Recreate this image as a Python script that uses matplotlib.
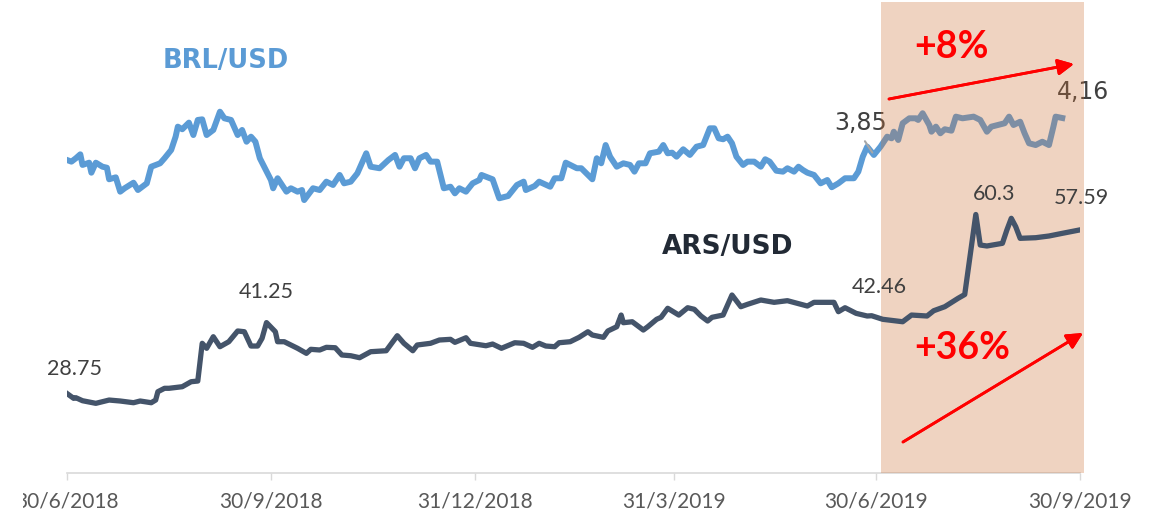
import matplotlib
matplotlib.use('Agg')
import matplotlib.pyplot as plt
import matplotlib.dates as mdates
import pandas as pd
from matplotlib.transforms import Bbox, TransformedBbox

# ARS/USD (eje izquierdo)
ars_fechas = ['2018-06-30', '2018-07-03', '2018-07-04', '2018-07-07', '2018-07-13', '2018-07-19',
              '2018-07-24', '2018-07-30', '2018-08-02', '2018-08-07', '2018-08-09', '2018-08-10',
              '2018-08-13', '2018-08-15', '2018-08-21', '2018-08-25', '2018-08-28', '2018-08-30',
              '2018-09-01', '2018-09-04', '2018-09-07', '2018-09-11', '2018-09-15', '2018-09-18',
              '2018-09-21', '2018-09-24', '2018-09-26', '2018-09-28', '2018-10-02', '2018-10-03',
              '2018-10-06', '2018-10-12', '2018-10-16', '2018-10-18', '2018-10-22', '2018-10-25',
              '2018-10-29', '2018-11-01', '2018-11-05', '2018-11-09', '2018-11-14', '2018-11-21',
              '2018-11-26', '2018-11-29', '2018-12-03', '2018-12-05', '2018-12-11', '2018-12-15',
              '2018-12-20', '2018-12-22', '2018-12-27', '2018-12-29', '2019-01-05', '2019-01-08',
              '2019-01-12', '2019-01-18', '2019-01-22', '2019-01-26', '2019-01-29', '2019-02-01',
              '2019-02-05', '2019-02-07', '2019-02-12', '2019-02-16', '2019-02-20', '2019-02-22',
              '2019-02-27', '2019-03-01', '2019-03-05', '2019-03-07', '2019-03-08', '2019-03-12',
              '2019-03-14', '2019-03-17', '2019-03-19', '2019-03-23', '2019-03-25', '2019-03-28',
              '2019-04-02', '2019-04-06', '2019-04-09', '2019-04-12', '2019-04-15', '2019-04-17',
              '2019-04-22', '2019-04-26', '2019-04-30', '2019-05-03', '2019-05-09', '2019-05-15',
              '2019-05-21', '2019-05-30', '2019-06-02', '2019-06-11', '2019-06-13', '2019-06-16',
              '2019-06-21', '2019-06-26', '2019-06-28', '2019-07-03', '2019-07-12', '2019-07-16',
              '2019-07-23', '2019-07-26', '2019-07-31', '2019-08-06', '2019-08-09', '2019-08-14',
              '2019-08-16', '2019-08-19', '2019-08-26', '2019-08-28', '2019-08-30', '2019-09-01',
              '2019-09-03', '2019-09-10', '2019-09-16', '2019-09-22', '2019-09-30']
ars_valores = [28.75, 27.90, 28.01, 27.48, 27.02, 27.60,
               27.43, 27.13, 27.43, 27.13, 27.60, 29.07,
               29.67, 29.67, 29.95, 30.83, 30.95, 37.60,
               36.72, 38.76, 37.00, 37.88, 39.77, 39.64,
               37.12, 37.12, 38.48, 41.25, 39.64, 37.88,
               37.88, 36.72, 35.83, 36.54, 36.42, 36.89,
               36.82, 35.54, 35.41, 35.06, 36.12, 36.29,
               38.94, 37.60, 36.29, 37.30, 37.60, 38.18,
               38.30, 37.77, 38.58, 37.60, 37.17, 37.47,
               36.72, 37.70, 37.60, 36.89, 37.60, 37.12,
               37.00, 37.70, 37.88, 38.65, 39.64, 39.06,
               38.65, 39.77, 40.52, 42.58, 41.23, 41.40,
               40.82, 39.94, 40.52, 41.83, 42.18, 43.77,
               42.58, 43.87, 43.59, 42.41, 41.53, 42.18,
               42.58, 46.11, 44.05, 44.47, 45.23, 44.82,
               45.11, 44.17, 44.82, 44.82, 43.17, 43.87,
               42.88, 42.41, 42.46, 41.83, 41.40, 42.58,
               42.41, 43.34, 44.05, 45.53, 46.20, 60.30,
               54.92, 54.75, 55.22, 57.56, 59.63, 58.15,
               56.10, 56.21, 56.51, 56.98, 57.59]

# BRL/USD (eje derecho)
brl_fechas = ['2018-06-30', '2018-07-02', '2018-07-04', '2018-07-06', '2018-07-07', '2018-07-10',
              '2018-07-11', '2018-07-13', '2018-07-16', '2018-07-18', '2018-07-19', '2018-07-22',
              '2018-07-24', '2018-07-26', '2018-07-30', '2018-08-01', '2018-08-05', '2018-08-07',
              '2018-08-11', '2018-08-13', '2018-08-16', '2018-08-18', '2018-08-19', '2018-08-21',
              '2018-08-24', '2018-08-26', '2018-08-28', '2018-08-30', '2018-09-01', '2018-09-04',
              '2018-09-07', '2018-09-09', '2018-09-12', '2018-09-15', '2018-09-17', '2018-09-19',
              '2018-09-21', '2018-09-23', '2018-09-25', '2018-09-30', '2018-10-01', '2018-10-03',
              '2018-10-07', '2018-10-09', '2018-10-12', '2018-10-14', '2018-10-15', '2018-10-19',
              '2018-10-22', '2018-10-25', '2018-10-28', '2018-10-31', '2018-11-02', '2018-11-05',
              '2018-11-08', '2018-11-12', '2018-11-14', '2018-11-18', '2018-11-22', '2018-11-25',
              '2018-11-27', '2018-11-29', '2018-12-02', '2018-12-04', '2018-12-06', '2018-12-09',
              '2018-12-11', '2018-12-14', '2018-12-17', '2018-12-20', '2018-12-22', '2018-12-24',
              '2018-12-27', '2018-12-30', '2019-01-02', '2019-01-03', '2019-01-08', '2019-01-11',
              '2019-01-15', '2019-01-19', '2019-01-22', '2019-01-23', '2019-01-27', '2019-01-29',
              '2019-02-03', '2019-02-05', '2019-02-08', '2019-02-10', '2019-02-15', '2019-02-17',
              '2019-02-22', '2019-02-24', '2019-02-26', '2019-02-28', '2019-03-02', '2019-03-05',
              '2019-03-08', '2019-03-11', '2019-03-13', '2019-03-15', '2019-03-18', '2019-03-20',
              '2019-03-24', '2019-03-26', '2019-03-28', '2019-03-30', '2019-04-01', '2019-04-04',
              '2019-04-07', '2019-04-10', '2019-04-13', '2019-04-16', '2019-04-18', '2019-04-20',
              '2019-04-22', '2019-04-24', '2019-04-26', '2019-04-28', '2019-05-01', '2019-05-03',
              '2019-05-06', '2019-05-09', '2019-05-11', '2019-05-13', '2019-05-16', '2019-05-19',
              '2019-05-21', '2019-05-24', '2019-05-26', '2019-05-28', '2019-05-30', '2019-06-02',
              '2019-06-05', '2019-06-08', '2019-06-10', '2019-06-13', '2019-06-16', '2019-06-20',
              '2019-06-22', '2019-06-24', '2019-06-26', '2019-06-29', '2019-07-02', '2019-07-05',
              '2019-07-07', '2019-07-08', '2019-07-10', '2019-07-12', '2019-07-15', '2019-07-18',
              '2019-07-19', '2019-07-21', '2019-07-24', '2019-07-25', '2019-07-27', '2019-07-29',
              '2019-07-31', '2019-08-03', '2019-08-05', '2019-08-08', '2019-08-13', '2019-08-16',
              '2019-08-19', '2019-08-21', '2019-08-27', '2019-08-29', '2019-08-31', '2019-09-03',
              '2019-09-05', '2019-09-07', '2019-09-10', '2019-09-13', '2019-09-16', '2019-09-18',
              '2019-09-19', '2019-09-22']
brl_valores = [3.753, 3.737, 3.770, 3.808, 3.705, 3.727,
               3.630, 3.727, 3.688, 3.678, 3.566, 3.585,
               3.446, 3.479, 3.533, 3.462, 3.527, 3.688,
               3.721, 3.770, 3.850, 3.979, 4.076, 4.051,
               4.115, 3.995, 4.141, 4.147, 3.995, 4.044,
               4.221, 4.157, 4.141, 3.995, 4.044, 3.930,
               3.979, 3.930, 3.770, 3.559, 3.479, 3.576,
               3.446, 3.479, 3.446, 3.462, 3.365, 3.479,
               3.462, 3.543, 3.511, 3.608, 3.527, 3.543,
               3.624, 3.818, 3.688, 3.673, 3.753, 3.802,
               3.688, 3.770, 3.770, 3.673, 3.770, 3.802,
               3.737, 3.737, 3.479, 3.494, 3.430, 3.479,
               3.446, 3.527, 3.559, 3.608, 3.566, 3.382,
               3.404, 3.511, 3.543, 3.462, 3.501, 3.543,
               3.494, 3.576, 3.576, 3.727, 3.673, 3.673,
               3.566, 3.770, 3.721, 3.898, 3.785, 3.688,
               3.721, 3.705, 3.640, 3.721, 3.721, 3.818,
               3.834, 3.898, 3.818, 3.824, 3.785, 3.857,
               3.802, 3.882, 3.898, 4.060, 4.060, 3.963,
               3.954, 3.979, 3.915, 3.785, 3.705, 3.737,
               3.737, 3.688, 3.760, 3.737, 3.649, 3.640,
               3.673, 3.640, 3.688, 3.656, 3.630, 3.608,
               3.527, 3.559, 3.489, 3.527, 3.576, 3.576,
               3.640, 3.785, 3.882, 3.802, 3.882, 3.979,
               3.963, 4.027, 3.947, 4.109, 4.157, 4.157,
               4.141, 4.206, 4.092, 4.027, 4.076, 4.012,
               4.051, 4.037, 4.173, 4.157, 4.173, 4.141,
               4.027, 4.076, 4.109, 4.173, 4.092, 4.124,
               4.012, 3.915, 3.898, 3.930, 3.898, 4.076,
               4.173, 4.160]

ticks_fechas = ['2018-06-30', '2018-09-30', '2018-12-31', '2019-03-31', '2019-06-30', '2019-09-30']
ticks_textos = ['30/6/2018', '30/9/2018', '31/12/2018', '31/3/2019', '30/6/2019', '30/9/2019']

# (texto, fecha del punto)
etiquetas_ars = [('28.75', '2018-06-30'), ('41.25', '2018-09-28'), ('42.46', '2019-06-28'),
                 ('60.3', '2019-08-14'), ('57.59', '2019-09-30')]
etiquetas_brl = [('3,85', '2019-06-29'), ('4,16', '2019-09-22')]

periodo_ini = '2019-07-02'
periodo_fin = '2019-10-01 19:00'

ars = pd.Series(ars_valores, index=pd.to_datetime(ars_fechas))
brl = pd.Series(brl_valores, index=pd.to_datetime(brl_fechas))

W, H = 1150, 518
fig = plt.figure(figsize=(W / 100, H / 100), dpi=100)
# eje base: BRL + sombreado; eje gemelo (encima): ARS
ax = fig.add_axes([67 / W, (H - 473.3) / H, 1013 / W, 471.3 / H])
ax2 = ax.twinx()

ax.plot(brl.index, brl.values, color='#5B9BD5', lw=4.3, solid_joinstyle='round', zorder=2)
ax2.plot(ars.index, ars.values, color='#44546A', lw=3.8, solid_joinstyle='round', zorder=2)

# zona sombreada jul-sep 2019 (tapa BRL y el eje, no ARS)
ax.axvspan(pd.Timestamp(periodo_ini), pd.Timestamp(periodo_fin), color='#CC7238', alpha=0.31,
           lw=0, zorder=5, clip_on=False)

ax.set_xlim(pd.Timestamp('2018-06-30'), pd.Timestamp('2019-09-30'))
ax.set_ylim(0.717, 5.284)
ax2.set_ylim(14.69, 97.75)

ax.set_xticks(pd.to_datetime(ticks_fechas))
ax.set_xticklabels(ticks_textos, fontsize=15, family=['Lato', 'DejaVu Sans'], color='#595959')
ax.tick_params(axis='x', direction='out', length=5, width=1, color='#D9D9D9', pad=8)
ax.set_yticks([])
ax2.set_yticks([])
for s in ['top', 'left', 'right']:
    ax.spines[s].set_visible(False)
for s in ax2.spines.values():
    s.set_visible(False)
ax.spines['bottom'].set_color('#D9D9D9')
ax.spines['bottom'].set_linewidth(1.2)

# primera etiqueta recortada como en el original
lbl0 = ax.xaxis.get_major_ticks()[0].label1
lbl0.set_clip_on(True)
lbl0.set_clip_box(TransformedBbox(Bbox([[23 / W, 0], [1, 1]]), fig.transFigure))

# etiquetas de datos ARS (encima del sombreado)
desp_ars = [(7, 25), (0, 31), (8, 29), (18, 20), (1, 32)]
for (txt, f), (dx, dy) in zip(etiquetas_ars, desp_ars):
    ts = pd.Timestamp(f)
    ax2.annotate(txt, xy=(ts, ars[ts]), xytext=(dx, dy), annotation_clip=False,
                 textcoords='offset pixels', ha='center', va='center', fontsize=15.5,
                 family=['Lato', 'DejaVu Sans'], color='#404040', zorder=10)

# etiquetas BRL (debajo del sombreado)
ts = pd.Timestamp(etiquetas_brl[0][1])
ax.annotate(etiquetas_brl[0][0], xy=(ts, brl[ts]), xytext=(-13, 32), annotation_clip=False,
            textcoords='offset pixels', ha='center', va='center', fontsize=17, color='#404040',
            zorder=3, arrowprops=dict(arrowstyle='-', color='#A6A6A6', lw=1.5, relpos=(0.5, 0),
                                      shrinkA=3, shrinkB=2))
ts = pd.Timestamp(etiquetas_brl[1][1])
ax.annotate(etiquetas_brl[1][0], xy=(ts, brl[ts]), xytext=(21, 26), annotation_clip=False,
            textcoords='offset pixels', ha='center', va='center', fontsize=17, color='#404040',
            zorder=3)

# titulos de serie
fig.text(226 / W, 1 - 61 / H, 'BRL/USD', ha='center', va='center', fontsize=18.5,
         fontweight='bold', color='#5B9BD5')
fig.text(728 / W, 1 - 247 / H, 'ARS/USD', ha='center', va='center', fontsize=19,
         fontweight='bold', color='#222A35')

# variaciones
fig.text(951 / W, 1 - 47 / H, '+8%', ha='center', va='center', fontsize=27,
         fontweight='bold', family=['Lato', 'DejaVu Sans'], color='#FF0000')
fig.text(962 / W, 1 - 348 / H, '+36%', ha='center', va='center', fontsize=27,
         fontweight='bold', family=['Lato', 'DejaVu Sans'], color='#FF0000')

flecha = dict(arrowstyle='-|>', color='#FF0000', lw=2, mutation_scale=24, shrinkA=0, shrinkB=0)
fig.add_artist(plt.annotate('', xy=(1074, H - 64), xycoords='figure pixels',
                            xytext=(889, H - 99), textcoords='figure pixels', arrowprops=flecha))
fig.add_artist(plt.annotate('', xy=(1083, H - 333), xycoords='figure pixels',
                            xytext=(903, H - 442), textcoords='figure pixels', arrowprops=flecha))

fig.savefig('out.png', dpi=100)
